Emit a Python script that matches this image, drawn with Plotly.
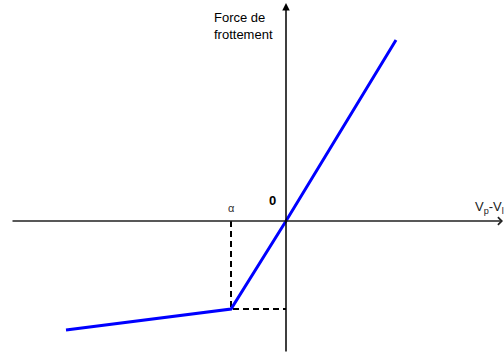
import plotly.graph_objects as go

# relative speed (Vp - Vl) and friction force, origin at the crossing of the axes
v_rel = [-220, -55, 0, 110]
force = [-109, -88, 0, 181]

alpha_v = v_rel[1]
alpha_f = force[1]

fig = go.Figure()

# dashed guides from the break point alpha
fig.add_trace(go.Scatter(
    x=[alpha_v, alpha_v, 0], y=[0, alpha_f, alpha_f],
    mode="lines", line=dict(color="black", width=2, dash="6px,4px"),
    hoverinfo="skip", showlegend=False,
))

fig.add_trace(go.Scatter(
    x=v_rel, y=force, mode="lines",
    line=dict(color="#0000ff", width=3),
    showlegend=False,
))

# axes with arrows
fig.add_annotation(x=217, y=0, ax=-275, ay=0, xref="x", yref="y", axref="x", ayref="y",
                   text="", showarrow=True, arrowhead=4, arrowsize=1, arrowwidth=1.5,
                   arrowcolor="#222", standoff=0)
fig.add_annotation(x=0, y=218, ax=0, ay=-132, xref="x", yref="y", axref="x", ayref="y",
                   text="", showarrow=True, arrowhead=2, arrowsize=1, arrowwidth=1.5,
                   arrowcolor="black", standoff=0)

fig.add_annotation(x=-74, y=195, text="Force de<br>frottement", showarrow=False,
                   xanchor="left", yanchor="middle", align="left",
                   font=dict(family="Liberation Sans, Arial", size=13, color="black"))
fig.add_annotation(x=-14, y=21, text="<b>0</b>", showarrow=False,
                   font=dict(family="Liberation Sans, Arial", size=13, color="black"))
fig.add_annotation(x=alpha_v, y=13, text="α", showarrow=False,
                   font=dict(family="Liberation Sans, Arial", size=11, color="#333"))
fig.add_annotation(x=187, y=14, text="V<sub>p</sub>-V<sub>l</sub>", showarrow=False,
                   xanchor="left", yanchor="middle",
                   font=dict(family="Liberation Sans, Arial", size=13, color="#222"))

fig.update_xaxes(range=[-286, 218], visible=False, fixedrange=True)
fig.update_yaxes(range=[-135, 221], visible=False, fixedrange=True)
fig.update_layout(
    width=504, height=356,
    margin=dict(l=0, r=0, t=0, b=0),
    plot_bgcolor="white", paper_bgcolor="white",
)

# page body margin would shift the figure by 8px
fig.write_html("out.html", post_script="document.body.style.margin='0';",
               config={"displayModeBar": False})
